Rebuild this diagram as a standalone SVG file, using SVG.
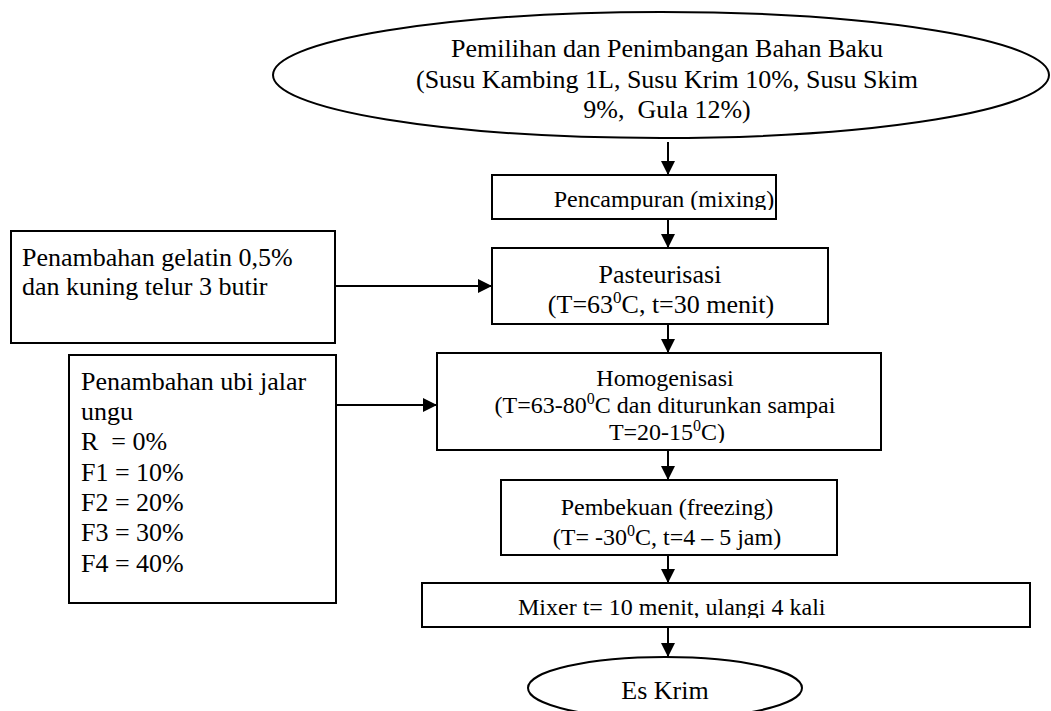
<svg xmlns="http://www.w3.org/2000/svg" width="1051" height="711" viewBox="0 0 1051 711">
<style>
.s{fill:#fff;stroke:#000;stroke-width:2}
.t{font-family:"Liberation Serif","Times New Roman",serif;fill:#000;white-space:pre}
.c{text-anchor:middle}
.a{stroke:#000;stroke-width:2;fill:none;marker-end:url(#ah)}
</style>
<defs>
<marker id="ah" viewBox="0 0 10 10" refX="10" refY="5" markerUnits="userSpaceOnUse" markerWidth="15" markerHeight="14" orient="auto">
<path d="M0,0 L10,5 L0,10 z" fill="#000"/>
</marker>
<clipPath id="cp1"><rect x="492" y="175" width="290" height="35"/></clipPath>
<clipPath id="cp2"><rect x="437" y="353" width="450" height="90"/></clipPath>
<clipPath id="cp3"><rect x="422" y="583" width="610" height="35"/></clipPath>
</defs>
<rect width="1051" height="711" fill="#fff"/>
<g id="connectors">
<line class="a" x1="668" y1="142" x2="668" y2="175"/>
<line class="a" x1="668" y1="219" x2="668" y2="248"/>
<line class="a" x1="668" y1="324" x2="668" y2="353"/>
<line class="a" x1="668" y1="450" x2="668" y2="480"/>
<line class="a" x1="668" y1="555" x2="668" y2="583"/>
<line class="a" x1="668" y1="627" x2="668" y2="657"/>
<line class="a" x1="335" y1="286" x2="492" y2="286"/>
<line class="a" x1="336" y1="405" x2="437" y2="405"/>
</g>
<g id="start">
<ellipse class="s" cx="661" cy="75" rx="388" ry="63"/>
<text class="t c" font-size="26"><tspan x="667" y="57">Pemilihan dan Penimbangan Bahan Baku</tspan><tspan x="667" y="87.5">(Susu Kambing 1L, Susu Krim 10%, Susu Skim</tspan><tspan x="667" y="118">9%,  Gula 12%)</tspan></text>
</g>
<g id="mixing">
<rect class="s" x="492" y="175" width="284" height="44"/>
<text class="t c" font-size="24" x="664" y="207" clip-path="url(#cp1)">Pencampuran (mixing)</text>
</g>
<g id="pasteurisasi">
<rect class="s" x="492" y="248" width="336" height="76"/>
<text class="t c" font-size="26" x="660" y="283">Pasteurisasi</text>
<text class="t c" font-size="26" x="661" y="313">(T=63<tspan font-size="17" dy="-10">0</tspan><tspan dy="10">C, t=30 menit)</tspan></text>
</g>
<g id="gelatin">
<rect class="s" x="11" y="231" width="324" height="112"/>
<text class="t" font-size="26"><tspan x="22" y="266">Penambahan gelatin 0,5%</tspan><tspan x="22" y="295">dan kuning telur 3 butir</tspan></text>
</g>
<g id="homogenisasi">
<rect class="s" x="437" y="353" width="444" height="97"/>
<g clip-path="url(#cp2)">
<text class="t c" font-size="24" x="665" y="386">Homogenisasi</text>
<text class="t c" font-size="24" x="665" y="413">(T=63-80<tspan font-size="16" dy="-9">0</tspan><tspan dy="9">C dan diturunkan sampai</tspan></text>
<text class="t c" font-size="24" x="667" y="440">T=20-15<tspan font-size="16" dy="-9">0</tspan><tspan dy="9">C)</tspan></text>
</g>
</g>
<g id="ubi">
<rect class="s" x="69" y="355" width="267" height="248"/>
<text class="t" font-size="26"><tspan x="81" y="390">Penambahan ubi jalar</tspan><tspan x="81" y="420">ungu</tspan><tspan x="81" y="450">R  = 0%</tspan><tspan x="81" y="481">F1 = 10%</tspan><tspan x="81" y="511">F2 = 20%</tspan><tspan x="81" y="541">F3 = 30%</tspan><tspan x="81" y="572">F4 = 40%</tspan></text>
</g>
<g id="pembekuan">
<rect class="s" x="501" y="480" width="336" height="75"/>
<text class="t c" font-size="24" x="667" y="515">Pembekuan (freezing)</text>
<text class="t c" font-size="24" x="667" y="545">(T= -30<tspan font-size="16" dy="-9">0</tspan><tspan dy="9">C, t=4 – 5 jam)</tspan></text>
</g>
<g id="mixer">
<rect class="s" x="422" y="583" width="608" height="44"/>
<text class="t" font-size="24" x="518" y="615" clip-path="url(#cp3)">Mixer t= 10 menit, ulangi 4 kali</text>
</g>
<g id="end">
<ellipse class="s" cx="665" cy="688" rx="137" ry="31"/>
<text class="t c" font-size="26" x="665" y="699">Es Krim</text>
</g>
</svg>
